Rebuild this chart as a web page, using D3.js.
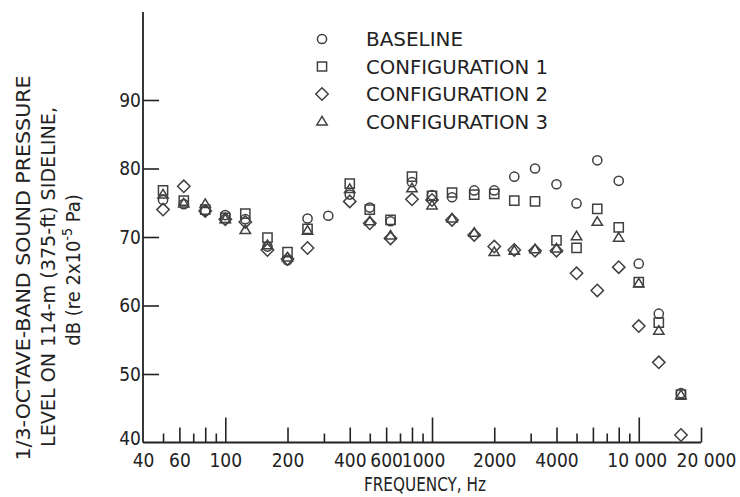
<!DOCTYPE html>
<html>
<head>
<meta charset="utf-8">
<script src="https://cdn.jsdelivr.net/npm/d3@7/dist/d3.min.js"></script>
<style>
  html, body { margin: 0; padding: 0; background: #fff; }
  svg { display: block; }
  text { font-family: "DejaVu Sans Condensed", "Liberation Sans Narrow", "DejaVu Sans", sans-serif; font-stretch: condensed; fill: #222; }
</style>
</head>
<body>
<svg id="chart" width="740" height="497"></svg>
<script>
// ---- data ----
const freqs = [50, 63, 80, 100, 125, 160, 200, 250, 315, 400, 500, 630, 800, 1000, 1250, 1600, 2000, 2500, 3150, 4000, 5000, 6300, 8000, 10000, 12500, 16000];
const baseline = [75.4, 74.8, 73.8, 73.2, 72.6, 68.6, 66.6, 72.7, 73.1, 76.2, 74.3, 72.3, 78.0, 76.1, 75.8, 76.8, 76.8, 78.8, 80.0, 77.7, 74.9, 81.2, 78.2, 66.1, 58.8, 47.2];
const config1 = [76.8, 75.3, 74.0, 72.8, 73.4, 69.9, 67.8, 71.2, null, 77.8, 74.0, 72.5, 78.8, 76.0, 76.5, 76.2, 76.3, 75.3, 75.2, 69.5, 68.4, 74.1, 71.4, 63.4, 57.5, 47.0];
const config2 = [74.0, 77.4, 73.8, 72.6, 72.2, 68.1, 66.8, 68.4, null, 75.2, 72.0, 69.8, 75.5, 75.4, 72.5, 70.3, 68.6, 68.1, 68.0, 68.0, 64.7, 62.2, 65.6, 57.0, 51.7, 41.1];
const config3 = [76.2, 74.9, 74.8, 72.6, 71.0, 68.8, 67.0, 70.9, null, 77.0, 72.3, 70.2, 77.1, 74.6, 72.7, 70.6, 67.8, 68.0, 68.2, 68.3, 70.1, 72.2, 69.9, 63.2, 56.3, 46.9];
const seriesNames = ["BASELINE", "CONFIGURATION 1", "CONFIGURATION 2", "CONFIGURATION 3"];
const seriesShapes = ["circle", "square", "diamond", "triangle"];
const yTicks = [40, 50, 60, 70, 80, 90];
const xLabelTicks = [40, 60, 100, 200, 400, 600, 1000, 2000, 4000, 10000, 20000];
const xLabelText = ["40", "60", "100", "200", "400", "600", "1000", "2000", "4000", "10 000", "20 000"];
const xLongTicks = [100, 1000, 10000];
const xMedTicks = [60, 80, 200, 400, 600, 800, 2000, 4000, 6000, 8000, 20000];
const xShortTicks = [50, 70, 90, 300, 500, 700, 900, 3000, 5000, 7000, 9000];

// ---- layout ----
const svg = d3.select("#chart");
const x0 = 143, x1 = 701;
const x = d3.scaleLog().domain([40, 20000]).range([x0, x1]);
const y = d3.scaleLinear().domain([40, 90]).range([442.5, 100]);
const yTop = 12;
const ink = "#222";

// y axis
const gy = svg.append("g").attr("transform", `translate(${x0},0)`);
gy.call(d3.axisLeft(y).tickValues(yTicks.filter(v => v !== 40)).tickSize(-16).tickPadding(2).tickFormat(d3.format("d")));
gy.select(".domain").remove();
gy.selectAll(".tick line").attr("stroke", ink).attr("stroke-width", 1.6);
gy.selectAll(".tick text").attr("font-size", 19).attr("fill", ink).attr("font-family", null);
gy.append("line").attr("x1", 0).attr("x2", 0).attr("y1", yTop).attr("y2", y(40)).attr("stroke", ink).attr("stroke-width", 1.8);
gy.append("text").attr("x", -2).attr("y", y(40) - 4).attr("dy", "0.32em").attr("text-anchor", "end").attr("font-size", 19).text("40");

// x axis ticks (inward)
const gx = svg.append("g").attr("transform", `translate(0,${y(40)})`);
function tickSet(vals, len) {
  const g = gx.append("g");
  g.call(d3.axisBottom(x).tickValues(vals).tickSize(-len).tickFormat(""));
  g.select(".domain").remove();
  g.selectAll(".tick line").attr("stroke", ink).attr("stroke-width", 1.6);
}
tickSet(xLongTicks, 25);
tickSet(xMedTicks, 15);
tickSet(xShortTicks, 9);
gx.append("line").attr("x1", x0).attr("x2", x(20000)).attr("y1", 0).attr("y2", 0).attr("stroke", ink).attr("stroke-width", 1.8);
const gxl = gx.append("g");
gxl.call(d3.axisBottom(x).tickValues(xLabelTicks).tickSize(0).tickPadding(11).tickFormat((d, i) => xLabelText[i]));
gxl.select(".domain").remove();
gxl.selectAll(".tick text").attr("font-size", 19).attr("fill", ink).attr("font-family", null)
  .attr("dx", d => d === 1000 ? -9 : d === 10000 ? -2 : d === 20000 ? 5 : 0);

// axis titles
svg.append("text").attr("x", 425).attr("y", 491).attr("text-anchor", "middle").attr("font-size", 19)
  .attr("textLength", 122).attr("lengthAdjust", "spacingAndGlyphs").text("FREQUENCY, Hz");
const yl = svg.append("g");
yl.append("text").attr("transform", "translate(30,268) rotate(-90)").attr("text-anchor", "middle").attr("font-size", 20)
  .attr("textLength", 385).attr("lengthAdjust", "spacingAndGlyphs").text("1/3-OCTAVE-BAND SOUND PRESSURE");
yl.append("text").attr("transform", "translate(55,277) rotate(-90)").attr("text-anchor", "middle").attr("font-size", 20)
  .attr("textLength", 340).attr("lengthAdjust", "spacingAndGlyphs").text("LEVEL ON 114-m (375-ft) SIDELINE,");
const t3 = yl.append("text").attr("transform", "translate(80,270) rotate(-90)").attr("text-anchor", "middle").attr("font-size", 20);
t3.append("tspan").text("dB (re 2x10");
t3.append("tspan").attr("font-size", 14).attr("dy", -8).text("-5");
t3.append("tspan").attr("dy", 8).text(" Pa)");

// markers
function shapePath(shape) {
  if (shape === "circle") { const r = 4.6; return `M${r},0A${r},${r} 0 1,1 ${-r},0A${r},${r} 0 1,1 ${r},0Z`; }
  if (shape === "square") { const s = 4.6; return `M${-s},${-s}H${s}V${s}H${-s}Z`; }
  if (shape === "diamond") { const s = 6.2; return `M0,${-s}L${s},0L0,${s}L${-s},0Z`; }
  const h = 8.6, w = 5.2; return `M0,${-h * 0.6}L${w},${h * 0.4}L${-w},${h * 0.4}Z`;
}
const allSeries = [baseline, config1, config2, config3];
const gm = svg.append("g");
allSeries.forEach((vals, si) => {
  const pts = freqs.map((f, i) => ({ f, v: vals[i] })).filter(d => d.v != null);
  gm.append("g").selectAll("path").data(pts).join("path")
    .attr("d", shapePath(seriesShapes[si]))
    .attr("transform", d => `translate(${x(d.f)},${y(d.v)})`)
    .attr("fill", "none").attr("stroke", "#404040").attr("stroke-width", 1.5);
});

// legend
const lg = svg.append("g");
const legY = [39, 66.5, 94, 121.5];
const legW = [97, 182, 182, 182];
seriesNames.forEach((name, i) => {
  lg.append("path").attr("d", shapePath(seriesShapes[i])).attr("transform", `translate(322,${legY[i]})`)
    .attr("fill", "none").attr("stroke", "#404040").attr("stroke-width", 1.5);
  lg.append("text").attr("x", 366).attr("y", legY[i]).attr("dy", "0.36em").attr("font-size", 20)
    .attr("textLength", legW[i]).attr("lengthAdjust", "spacingAndGlyphs").text(name);
});
</script>
</body>
</html>
